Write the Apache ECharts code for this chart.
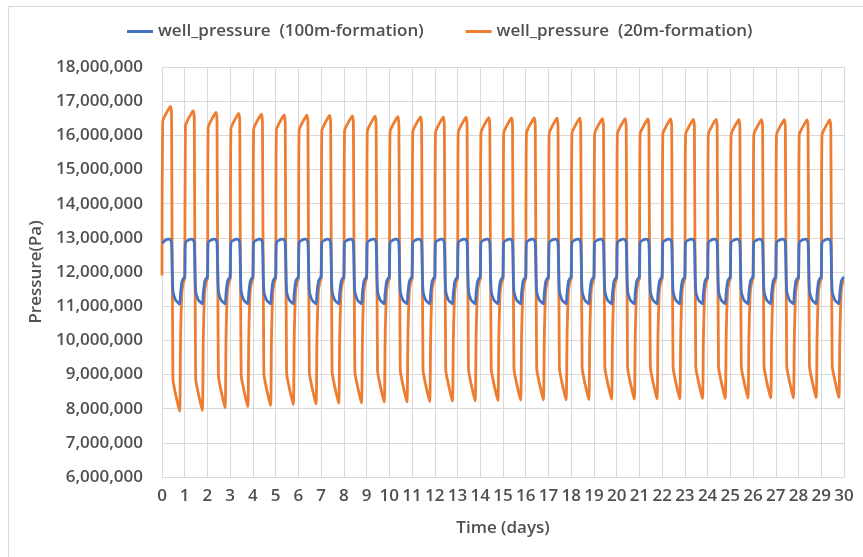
<!DOCTYPE html>
<html>
<head>
<meta charset="utf-8">
<script src="https://cdn.jsdelivr.net/npm/echarts@6/dist/echarts.min.js"></script>
<style>
  html, body { margin: 0; padding: 0; background: #ffffff; }
  #chart { width: 863px; height: 557px; }
</style>
</head>
<body>
<div id="chart"></div>
<script>
// Sampling instants inside each daily cycle (fraction of the day)
const cyclePhase = [0, 0.03, 0.15, 0.3, 0.37, 0.42, 0.48, 0.58, 0.68, 0.77, 0.82, 0.88, 0.95];

// Well pressure in MPa, one row per day (day 0 .. day 29)
const pressure100m = [
  [12.85, 12.86, 12.93, 12.96, 12.95, 12.85, 11.45, 11.2, 11.12, 11.06, 11.4, 11.72, 11.82],
  [11.85, 12.86, 12.93, 12.96, 12.95, 12.85, 11.45, 11.2, 11.12, 11.07, 11.4, 11.72, 11.82],
  [11.85, 12.86, 12.93, 12.96, 12.95, 12.85, 11.45, 11.2, 11.12, 11.07, 11.4, 11.72, 11.82],
  [11.85, 12.86, 12.93, 12.96, 12.95, 12.85, 11.45, 11.2, 11.12, 11.07, 11.4, 11.72, 11.82],
  [11.85, 12.86, 12.93, 12.96, 12.95, 12.85, 11.45, 11.2, 11.12, 11.07, 11.4, 11.72, 11.82],
  [11.85, 12.86, 12.93, 12.96, 12.95, 12.85, 11.45, 11.2, 11.12, 11.07, 11.4, 11.72, 11.82],
  [11.85, 12.86, 12.93, 12.96, 12.95, 12.85, 11.45, 11.2, 11.12, 11.07, 11.4, 11.72, 11.82],
  [11.85, 12.86, 12.93, 12.96, 12.95, 12.85, 11.45, 11.2, 11.12, 11.07, 11.4, 11.72, 11.82],
  [11.85, 12.86, 12.93, 12.96, 12.95, 12.85, 11.45, 11.2, 11.12, 11.07, 11.4, 11.72, 11.82],
  [11.85, 12.86, 12.93, 12.96, 12.95, 12.85, 11.45, 11.2, 11.12, 11.07, 11.4, 11.72, 11.82],
  [11.85, 12.86, 12.93, 12.96, 12.95, 12.85, 11.45, 11.2, 11.12, 11.07, 11.4, 11.72, 11.82],
  [11.85, 12.86, 12.93, 12.96, 12.95, 12.85, 11.45, 11.2, 11.12, 11.07, 11.4, 11.72, 11.82],
  [11.85, 12.86, 12.93, 12.96, 12.95, 12.85, 11.45, 11.2, 11.12, 11.07, 11.4, 11.72, 11.82],
  [11.85, 12.86, 12.93, 12.96, 12.95, 12.85, 11.45, 11.2, 11.12, 11.07, 11.4, 11.72, 11.82],
  [11.85, 12.86, 12.93, 12.96, 12.95, 12.85, 11.45, 11.2, 11.12, 11.07, 11.4, 11.72, 11.82],
  [11.85, 12.86, 12.93, 12.96, 12.95, 12.85, 11.45, 11.2, 11.12, 11.07, 11.4, 11.72, 11.82],
  [11.85, 12.86, 12.93, 12.96, 12.95, 12.85, 11.45, 11.2, 11.12, 11.07, 11.4, 11.72, 11.82],
  [11.85, 12.86, 12.93, 12.96, 12.95, 12.85, 11.45, 11.2, 11.12, 11.07, 11.4, 11.72, 11.82],
  [11.85, 12.86, 12.93, 12.96, 12.95, 12.85, 11.45, 11.2, 11.12, 11.07, 11.4, 11.72, 11.82],
  [11.85, 12.86, 12.93, 12.96, 12.95, 12.85, 11.45, 11.2, 11.12, 11.07, 11.4, 11.72, 11.82],
  [11.85, 12.86, 12.93, 12.96, 12.95, 12.85, 11.45, 11.2, 11.12, 11.07, 11.4, 11.72, 11.82],
  [11.85, 12.86, 12.93, 12.96, 12.95, 12.85, 11.45, 11.2, 11.12, 11.07, 11.4, 11.72, 11.82],
  [11.85, 12.86, 12.93, 12.96, 12.95, 12.85, 11.45, 11.2, 11.12, 11.07, 11.4, 11.72, 11.82],
  [11.85, 12.86, 12.93, 12.96, 12.95, 12.85, 11.45, 11.2, 11.12, 11.07, 11.4, 11.72, 11.82],
  [11.85, 12.86, 12.93, 12.96, 12.95, 12.85, 11.45, 11.2, 11.12, 11.07, 11.4, 11.72, 11.82],
  [11.85, 12.86, 12.93, 12.96, 12.95, 12.85, 11.45, 11.2, 11.12, 11.07, 11.4, 11.72, 11.82],
  [11.85, 12.86, 12.93, 12.96, 12.95, 12.85, 11.45, 11.2, 11.12, 11.07, 11.4, 11.72, 11.82],
  [11.85, 12.86, 12.93, 12.96, 12.95, 12.85, 11.45, 11.2, 11.12, 11.07, 11.4, 11.72, 11.82],
  [11.85, 12.86, 12.93, 12.96, 12.95, 12.85, 11.45, 11.2, 11.12, 11.07, 11.4, 11.72, 11.82],
  [11.85, 12.86, 12.93, 12.96, 12.95, 12.85, 11.45, 11.2, 11.12, 11.07, 11.4, 11.72, 11.82]
];

const pressure20m = [
  [11.9, 16.4, 16.6, 16.78, 16.85, 16.6, 8.88, 8.48, 8.18, 7.93, 10.2, 11.45, 11.72],
  [11.8, 16.27, 16.47, 16.65, 16.72, 16.47, 8.9, 8.5, 8.2, 7.95, 10.2, 11.45, 11.72],
  [11.8, 16.22, 16.42, 16.6, 16.67, 16.42, 8.98, 8.58, 8.28, 8.03, 10.2, 11.45, 11.72],
  [11.8, 16.19, 16.39, 16.57, 16.64, 16.39, 9.01, 8.61, 8.31, 8.06, 10.2, 11.45, 11.72],
  [11.8, 16.17, 16.37, 16.55, 16.62, 16.37, 9.04, 8.64, 8.34, 8.09, 10.2, 11.45, 11.72],
  [11.8, 16.15, 16.35, 16.53, 16.6, 16.35, 9.07, 8.67, 8.37, 8.12, 10.2, 11.45, 11.72],
  [11.8, 16.14, 16.34, 16.52, 16.59, 16.34, 9.09, 8.69, 8.39, 8.14, 10.2, 11.45, 11.72],
  [11.8, 16.13, 16.33, 16.51, 16.58, 16.33, 9.11, 8.71, 8.41, 8.16, 10.2, 11.45, 11.72],
  [11.8, 16.12, 16.32, 16.5, 16.57, 16.32, 9.12, 8.72, 8.42, 8.17, 10.2, 11.45, 11.72],
  [11.8, 16.11, 16.31, 16.49, 16.56, 16.31, 9.14, 8.74, 8.44, 8.19, 10.2, 11.45, 11.72],
  [11.8, 16.1, 16.3, 16.48, 16.55, 16.3, 9.15, 8.75, 8.45, 8.2, 10.2, 11.45, 11.72],
  [11.8, 16.09, 16.29, 16.47, 16.54, 16.29, 9.16, 8.76, 8.46, 8.21, 10.2, 11.45, 11.72],
  [11.8, 16.08, 16.28, 16.46, 16.53, 16.28, 9.17, 8.77, 8.47, 8.22, 10.2, 11.45, 11.72],
  [11.8, 16.08, 16.28, 16.46, 16.53, 16.28, 9.18, 8.78, 8.48, 8.23, 10.2, 11.45, 11.72],
  [11.8, 16.07, 16.27, 16.45, 16.52, 16.27, 9.19, 8.79, 8.49, 8.24, 10.2, 11.45, 11.72],
  [11.8, 16.06, 16.26, 16.44, 16.51, 16.26, 9.2, 8.8, 8.5, 8.25, 10.2, 11.45, 11.72],
  [11.8, 16.06, 16.26, 16.44, 16.51, 16.26, 9.21, 8.81, 8.51, 8.26, 10.2, 11.45, 11.72],
  [11.8, 16.05, 16.25, 16.43, 16.5, 16.25, 9.21, 8.81, 8.51, 8.26, 10.2, 11.45, 11.72],
  [11.8, 16.05, 16.25, 16.43, 16.5, 16.25, 9.22, 8.82, 8.52, 8.27, 10.2, 11.45, 11.72],
  [11.8, 16.04, 16.24, 16.42, 16.49, 16.24, 9.23, 8.83, 8.53, 8.28, 10.2, 11.45, 11.72],
  [11.8, 16.04, 16.24, 16.42, 16.49, 16.24, 9.23, 8.83, 8.53, 8.28, 10.2, 11.45, 11.72],
  [11.8, 16.03, 16.23, 16.41, 16.48, 16.23, 9.24, 8.84, 8.54, 8.29, 10.2, 11.45, 11.72],
  [11.8, 16.03, 16.23, 16.41, 16.48, 16.23, 9.24, 8.84, 8.54, 8.29, 10.2, 11.45, 11.72],
  [11.8, 16.02, 16.22, 16.4, 16.47, 16.22, 9.25, 8.85, 8.55, 8.3, 10.2, 11.45, 11.72],
  [11.8, 16.02, 16.22, 16.4, 16.47, 16.22, 9.25, 8.85, 8.55, 8.3, 10.2, 11.45, 11.72],
  [11.8, 16.01, 16.21, 16.39, 16.46, 16.21, 9.26, 8.86, 8.56, 8.31, 10.2, 11.45, 11.72],
  [11.8, 16.01, 16.21, 16.39, 16.46, 16.21, 9.26, 8.86, 8.56, 8.31, 10.2, 11.45, 11.72],
  [11.8, 16.01, 16.21, 16.39, 16.46, 16.21, 9.27, 8.87, 8.57, 8.32, 10.2, 11.45, 11.72],
  [11.8, 16.0, 16.2, 16.38, 16.45, 16.2, 9.27, 8.87, 8.57, 8.32, 10.2, 11.45, 11.72],
  [11.8, 16.0, 16.2, 16.38, 16.45, 16.2, 9.28, 8.88, 8.58, 8.33, 10.2, 11.45, 11.72]
];

// Last samples, at the end of day 30
const finalDay = 30;
const final100m = 11.85;
const final20m = 11.75;

const seriesNames = ['well_pressure  (100m-formation)', 'well_pressure  (20m-formation)'];
const seriesColors = ['#4472C4', '#ED7D31'];

// Flatten the per-day rows into [time, pressure in Pa] pairs
function toPoints(rows, last) {
  const pts = [];
  rows.forEach((row, day) => {
    row.forEach((mpa, k) => pts.push([day + cyclePhase[k], mpa * 1e6]));
  });
  pts.push([finalDay, last * 1e6]);
  return pts;
}

const chart = echarts.init(document.getElementById('chart'), null, { renderer: 'canvas' });
const labelFont = '"Open Sans", "Noto Sans", sans-serif';
const textStyleBase = { fontFamily: labelFont, fontSize: 17, color: '#505050', fontWeight: 600 };

chart.setOption({
  backgroundColor: '#ffffff',
  animation: false,
  graphic: [{
    type: 'rect',
    shape: { x: 8.5, y: 6.5, width: 900, height: 600 },
    style: { fill: 'none', stroke: '#D9D9D9', lineWidth: 1 },
    silent: true
  }],
  legend: {
    top: 18,
    left: 122,
    itemWidth: 26,
    itemHeight: 3,
    itemGap: 42,
    icon: 'rect',
    textStyle: textStyleBase,
    data: seriesNames
  },
  grid: { left: 162, right: 19, top: 67, bottom: 80, containLabel: false },
  xAxis: {
    type: 'value',
    min: 0, max: 30, interval: 1,
    name: 'Time (days)',
    nameLocation: 'middle',
    nameGap: 43,
    nameTextStyle: textStyleBase,
    axisLine: { show: true, lineStyle: { color: '#D9D9D9', width: 1 } },
    axisTick: { show: false },
    axisLabel: Object.assign({}, textStyleBase, { margin: 11 }),
    splitLine: { show: true, lineStyle: { color: '#D9D9D9', width: 1 } }
  },
  yAxis: {
    type: 'value',
    min: 6000000, max: 18000000, interval: 1000000,
    name: 'Pressure(Pa)',
    nameLocation: 'middle',
    nameGap: 116,
    nameRotate: 90,
    nameTextStyle: textStyleBase,
    axisLine: { show: false },
    axisTick: { show: false },
    axisLabel: Object.assign({}, textStyleBase, {
      margin: 19,
      formatter: v => v.toLocaleString('en-US')
    }),
    splitLine: { show: true, lineStyle: { color: '#D9D9D9', width: 1 } }
  },
  series: [
    {
      name: seriesNames[0], type: 'line', showSymbol: false, smooth: 0.3,
      color: seriesColors[0], lineStyle: { width: 2.8, color: seriesColors[0] },
      data: toPoints(pressure100m, final100m), z: 3
    },
    {
      name: seriesNames[1], type: 'line', showSymbol: false, smooth: 0.3,
      color: seriesColors[1], lineStyle: { width: 2.8, color: seriesColors[1] },
      data: toPoints(pressure20m, final20m), z: 2
    }
  ]
});
</script>
</body>
</html>
